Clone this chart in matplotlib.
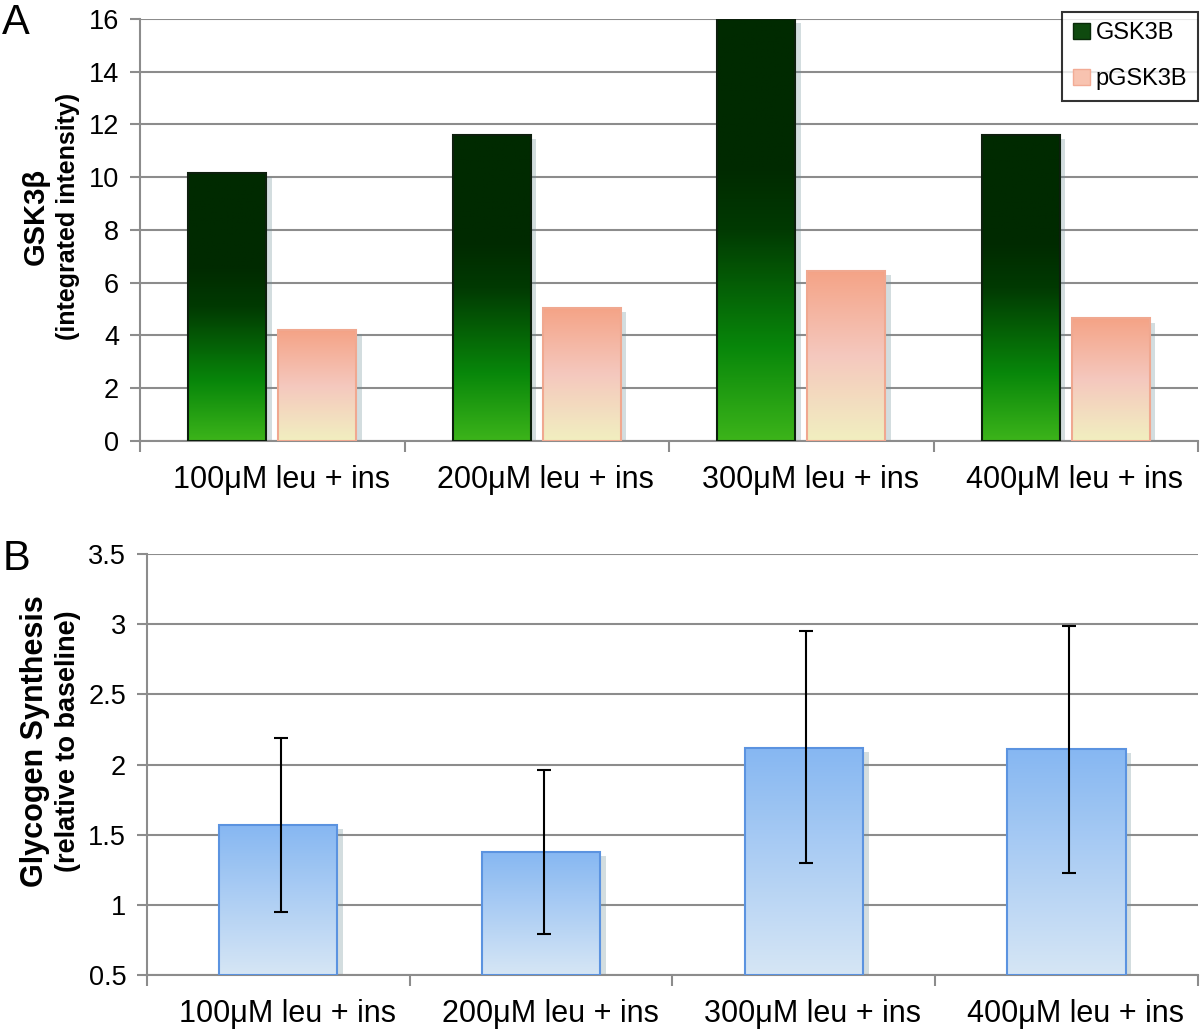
import numpy as np
from matplotlib import pyplot as plt
from matplotlib.colors import LinearSegmentedColormap
from matplotlib.patches import Patch
import matplotlib.patheffects as pe

plt.rcParams['font.family'] = ['Liberation Sans', 'DejaVu Sans']

categories = ['100μM leu + ins', '200μM leu + ins', '300μM leu + ins', '400μM leu + ins']
gsk3b = [10.15, 11.6, 16.0, 11.6]
pgsk3b = [4.2, 5.05, 6.45, 4.65]
glycogen = [1.57, 1.38, 2.12, 2.11]
glycogen_err_low = [0.62, 0.59, 0.82, 0.88]
glycogen_err_high = [0.62, 0.58, 0.83, 0.88]

green_cmap = LinearSegmentedColormap.from_list(
    'green', [(0, '#3cb41a'), (0.22, '#08870a'), (0.5, '#013a02'), (0.65, '#002a00'), (1, '#002a00')])
pink_cmap = LinearSegmentedColormap.from_list(
    'pink', [(0, '#f1efc0'), (0.5, '#f5c8be'), (1, '#f4a386')])
blue_cmap = LinearSegmentedColormap.from_list(
    'blue', [(0, '#d6e6f5'), (1, '#86b7f2')])

GRAY = '#8c8c8c'
shadow = [pe.SimplePatchShadow(offset=(4, -3), shadow_rgbFace='#6f8f96', alpha=0.3), pe.Normal()]


def gradient_bars(ax, x, heights, width, base, cmap, edge):
    bars = ax.bar(x, np.array(heights) - base, width, bottom=base, color='white',
                  edgecolor='none', zorder=2, path_effects=shadow)
    grad = np.linspace(0, 1, 256).reshape(-1, 1)
    for b in bars:
        x0, y0 = b.get_x(), b.get_y()
        im = ax.imshow(grad, cmap=cmap, origin='lower', aspect='auto', zorder=3,
                       extent=[x0, x0 + b.get_width(), y0, y0 + b.get_height()])
        im.set_clip_path(b)
    ax.bar(x, np.array(heights) - base, width, bottom=base, color='none',
           edgecolor=edge, linewidth=1.5, zorder=4)
    return bars


def style_axes(ax, ylim, yticks, yfmt):
    n = len(categories)
    ax.set_xlim(-0.5, n - 0.5)
    ax.set_ylim(*ylim)
    ax.set_yticks(yticks)
    ax.set_yticklabels([yfmt(v) for v in yticks], fontsize=19.5)
    # labels in the original sit a little right of the category centre
    ax.set_xticks(np.arange(n) + 0.034)
    ax.set_xticklabels(categories, fontsize=22)
    ax.set_xticks(np.arange(-0.5, n, 1), minor=True)
    ax.tick_params(axis='x', which='major', length=0, pad=17)
    ax.tick_params(axis='x', which='minor', length=8, color=GRAY, width=1.5)
    ax.tick_params(axis='y', length=7, color=GRAY, width=1.5, pad=8)
    ax.grid(axis='y', color=GRAY, linewidth=1.5, zorder=0)
    ax.set_axisbelow(True)
    for s in ['top', 'right']:
        ax.spines[s].set_visible(False)
    for s in ['left', 'bottom']:
        ax.spines[s].set_color(GRAY)
        ax.spines[s].set_linewidth(1.5)


fig = plt.figure(figsize=(12, 10.32), dpi=100)

# panel A
ax1 = fig.add_axes([0.1167, 0.5727, 0.8817, 0.4089])
x = np.arange(len(categories))
gradient_bars(ax1, x - 0.17, gsk3b, 0.295, 0, green_cmap, '#0d1f0d')
gradient_bars(ax1, x + 0.17, pgsk3b, 0.295, 0, pink_cmap, '#f0a890')
style_axes(ax1, (0, 16), np.arange(0, 17, 2), lambda v: f'{v:g}')
ax1.text(-0.099, 0.531, 'GSK3β', transform=ax1.transAxes, rotation=90, fontsize=21,
         fontweight='bold', ha='center', va='center')
ax1.text(-0.068, 0.531, '(integrated intensity)', transform=ax1.transAxes, rotation=90,
         fontsize=18, fontweight='bold', ha='center', va='center')
handles = [Patch(facecolor='#0f4a0f', edgecolor='#0a2a0a'),
           Patch(facecolor='#f8c3b0', edgecolor='#f2ab95')]
leg = ax1.legend(handles, ['GSK3B', 'pGSK3B'], loc='upper right', bbox_to_anchor=(0.9995, 1.017),
                 fontsize=17, frameon=True, fancybox=False, handlelength=0.7, handleheight=0.7,
                 handletextpad=0.25, labelspacing=1.0, borderpad=0.45, borderaxespad=0)
leg.get_frame().set_edgecolor('black')
leg.get_frame().set_linewidth(1.5)
leg.set_zorder(10)
fig.text(0.002, 0.978, 'A', fontsize=30, va='center', ha='left')

# panel B
ax2 = fig.add_axes([0.1225, 0.0552, 0.8758, 0.408])
gradient_bars(ax2, x, glycogen, 0.45, 0.5, blue_cmap, '#5b93e0')
ax2.errorbar(x + 0.01, glycogen, yerr=[glycogen_err_low, glycogen_err_high], fmt='none',
             ecolor='black', elinewidth=1.5, capsize=5, capthick=1.5, zorder=5)
style_axes(ax2, (0.5, 3.5), np.arange(0.5, 3.51, 0.5), lambda v: f'{v:g}')
ax2.text(-0.1066, 0.556, 'Glycogen Synthesis', transform=ax2.transAxes, rotation=90, fontsize=22,
         fontweight='bold', ha='center', va='center')
ax2.text(-0.0752, 0.556, '(relative to baseline)', transform=ax2.transAxes, rotation=90,
         fontsize=19.5, fontweight='bold', ha='center', va='center')
fig.text(0.002, 0.458, 'B', fontsize=30, va='center', ha='left')

fig.savefig('out.png', dpi=100)
